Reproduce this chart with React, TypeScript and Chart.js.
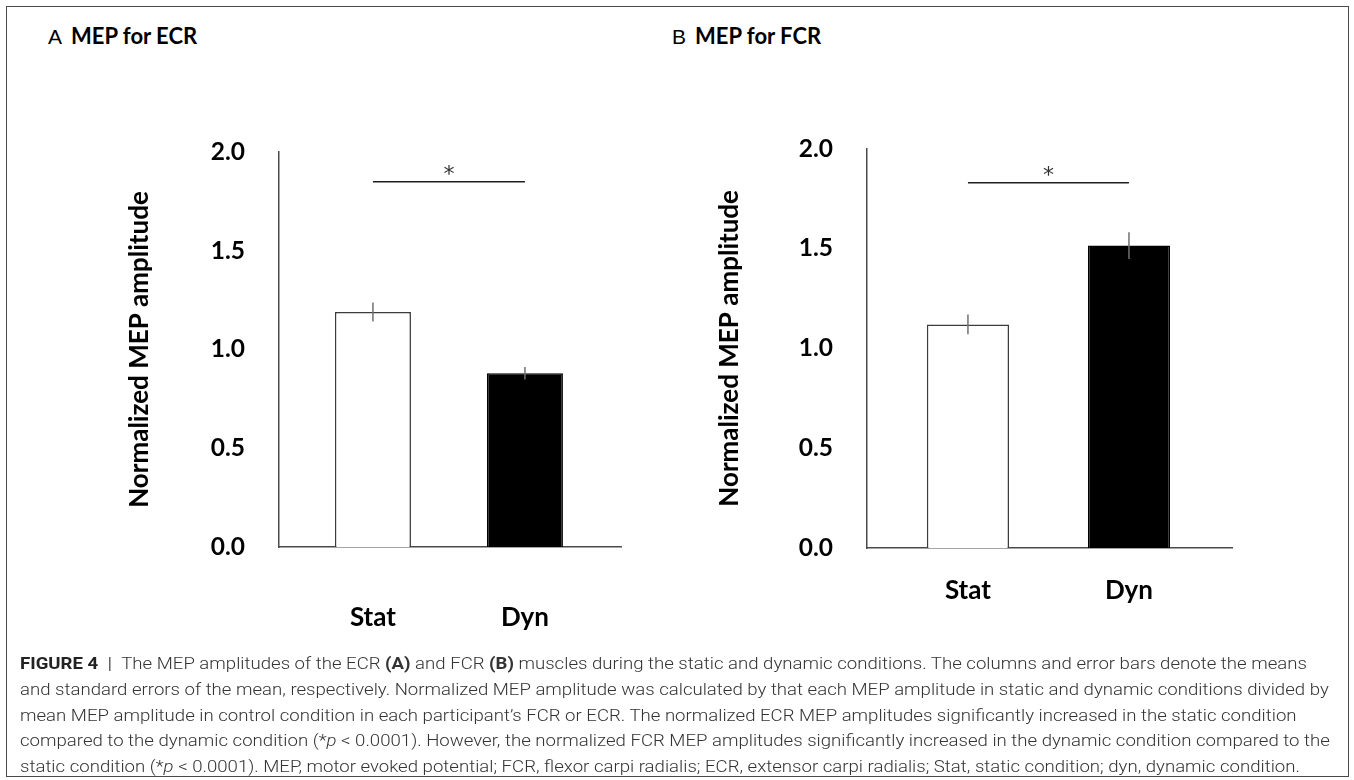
import React, { useEffect, useLayoutEffect, useRef } from 'react';
import { Chart, registerables } from 'chart.js';

Chart.register(...registerables);

// ---------- data ----------
const categories = ['Stat', 'Dyn'];
const ecrMeans = [1.19, 0.88];
const ecrErrors = [0.048, 0.032];
const fcrMeans = [1.12, 1.515];
const fcrErrors = [0.05, 0.067];
const yTickValues = [0, 0.5, 1.0, 1.5, 2.0];
const ecrSignificance = 1.85;
const fcrSignificance = 1.83;
const significanceMark = '*';
const yAxisTitle = 'Normalized MEP amplitude';

// ---------- styles ----------
const BAR_FILLS = ['#ffffff', '#000000'];
const BAR_BORDERS = ['#3c3c3c', '#000000'];
const BOLD = 'Lato';

const annotatePlugin = {
  id: 'annotate',
  afterDatasetsDraw(chart: any, _args: any, opts: any) {
    const { ctx } = chart;
    const ys = chart.scales.y;
    const meta = chart.getDatasetMeta(0);
    ctx.save();
    ctx.strokeStyle = '#707070';
    ctx.lineWidth = 1.5;
    meta.data.forEach((bar: any, i: number) => {
      const m = opts.means[i];
      const e = opts.errors[i];
      ctx.beginPath();
      ctx.moveTo(bar.x, ys.getPixelForValue(m + e));
      ctx.lineTo(bar.x, ys.getPixelForValue(m - e));
      ctx.stroke();
    });
    const y = ys.getPixelForValue(opts.sigLevel);
    const x1 = meta.data[0].x;
    const x2 = meta.data[meta.data.length - 1].x;
    ctx.strokeStyle = '#1e1e1e';
    ctx.lineWidth = 1.5;
    ctx.beginPath();
    ctx.moveTo(x1, y);
    ctx.lineTo(x2, y);
    ctx.stroke();
    ctx.fillStyle = '#333333';
    ctx.font = '22px "DejaVu Sans"';
    ctx.textAlign = 'center';
    ctx.textBaseline = 'alphabetic';
    ctx.fillText(opts.mark, (x1 + x2) / 2, y - 1);
    ctx.restore();
  },
};

type PanelProps = {
  means: number[];
  errors: number[];
  sig: number;
  yAxisWidth: number;
  xAxisHeight: number;
  padTop: number;
  padRight: number;
  titleCenter: number;
  xPad: number;
  xMin: number;
  xMax: number;
  barPct: number;
};

function Panel(p: PanelProps) {
  const ref = useRef<HTMLCanvasElement>(null);
  useEffect(() => {
    if (!ref.current) return;
    const chart = new Chart(ref.current, {
      type: 'bar',
      data: {
        datasets: [
          {
            data: p.means.map((v, i) => ({ x: i + 1, y: v })),
            backgroundColor: BAR_FILLS,
            borderColor: BAR_BORDERS,
            borderWidth: 1.5,
            barPercentage: p.barPct,
            categoryPercentage: 1,
          },
        ],
      },
      options: {
        animation: false,
        responsive: true,
        maintainAspectRatio: false,
        layout: { padding: { top: p.padTop, right: p.padRight, left: 0, bottom: 0 } },
        plugins: {
          legend: { display: false },
          tooltip: { enabled: false },
          annotate: { means: p.means, errors: p.errors, sigLevel: p.sig, mark: significanceMark },
        } as any,
        scales: {
          x: {
            type: 'linear',
            min: p.xMin,
            max: p.xMax,
            offset: false,
            grid: { display: false, drawTicks: false, offset: false },
            border: { display: true, color: '#4a4a4a', width: 1.5 },
            afterBuildTicks: (scale: any) => {
              scale.ticks = categories.map((_, i) => ({ value: i + 1 }));
            },
            afterFit: (scale: any) => {
              scale.height = p.xAxisHeight;
            },
            ticks: {
              padding: p.xPad,
              color: '#000',
              font: { family: BOLD, weight: 'bold', size: 26, lineHeight: 1.2 },
              callback: (v: any) => categories[Math.round(Number(v)) - 1] ?? '',
              maxRotation: 0,
              autoSkip: false,
            },
          },
          y: {
            min: 0,
            max: 2,
            grid: { display: false, drawTicks: false },
            border: { display: true, color: '#4a4a4a', width: 1.5 },
            afterBuildTicks: (scale: any) => {
              scale.ticks = yTickValues.map((v) => ({ value: v }));
            },
            afterFit: (scale: any) => {
              scale.width = p.yAxisWidth;
            },
            ticks: {
              padding: 34,
              color: '#000',
              font: { family: BOLD, weight: 'bold', size: 24.5 },
              callback: (v: any) => Number(v).toFixed(1),
            },
            title: {
              display: true,
              text: yAxisTitle,
              color: '#000',
              font: { family: BOLD, weight: 'bold', size: 26, lineHeight: 1 },
              padding: { top: p.titleCenter - 13, bottom: 0 },
            },
          },
        },
      } as any,
      plugins: [annotatePlugin],
    });
    return () => chart.destroy();
  }, []);
  return <canvas ref={ref} />;
}

const CAPTION_WIDTH = 1287;

export default function App() {
  const capRef = useRef<HTMLDivElement>(null);
  const firstRef = useRef<HTMLDivElement>(null);
  useLayoutEffect(() => {
    if (!capRef.current || !firstRef.current) return;
    const w = firstRef.current.scrollWidth;
    if (w > 0) capRef.current.style.transform = `scaleX(${CAPTION_WIDTH / w})`;
  });

  const lineStyle: React.CSSProperties = {
    whiteSpace: 'nowrap',
    width: 'max-content',
    height: 25.8,
    lineHeight: '25.8px',
  };
  const titleStyle: React.CSSProperties = {
    position: 'absolute',
    top: 20,
    fontSize: 22,
    lineHeight: '32px',
    color: '#000',
    whiteSpace: 'nowrap',
  };

  return (
    <div
      style={{
        position: 'absolute',
        left: 0,
        top: 0,
        width: 1354,
        height: 780,
        background: '#fff',
        overflow: 'hidden',
      }}
    >
      <div
        style={{
          position: 'absolute',
          left: 6,
          top: 6,
          width: 1343,
          height: 771,
          border: '1.5px solid #4a4a4a',
          boxSizing: 'border-box',
        }}
      />
      <div style={{ ...titleStyle, left: 48 }}>
        <span style={{ fontFamily: 'Liberation Sans', fontSize: 21 }}>A</span>
        <span style={{ fontFamily: 'Lato', fontWeight: 700, marginLeft: 9 }}>MEP for ECR</span>
      </div>
      <div style={{ ...titleStyle, left: 672 }}>
        <span style={{ fontFamily: 'Liberation Sans', fontSize: 21 }}>B</span>
        <span style={{ fontFamily: 'Lato', fontWeight: 700, marginLeft: 9 }}>MEP for FCR</span>
      </div>

      <div style={{ position: 'absolute', left: 0, top: 100, width: 680, height: 560 }}>
        <Panel
          means={ecrMeans}
          errors={ecrErrors}
          sig={ecrSignificance}
          yAxisWidth={279}
          xAxisHeight={113}
          padTop={52}
          padRight={59}
          titleCenter={140}
          xPad={55}
          xMin={0.382}
          xMax={2.632}
          barPct={0.5}
        />
      </div>
      <div style={{ position: 'absolute', left: 677, top: 100, width: 677, height: 560 }}>
        <Panel
          means={fcrMeans}
          errors={fcrErrors}
          sig={fcrSignificance}
          yAxisWidth={190}
          xAxisHeight={112}
          padTop={46}
          padRight={122}
          titleCenter={53}
          xPad={27}
          xMin={0.373}
          xMax={2.64}
          barPct={0.51}
        />
      </div>

      <div
        ref={capRef}
        style={{
          position: 'absolute',
          left: 20,
          top: 651,
          fontFamily: 'Roboto',
          fontWeight: 300,
          fontSize: 16.5,
          color: '#333',
          transformOrigin: 'left top',
        }}
      >
        <div ref={firstRef} style={lineStyle}>
          <b style={{ fontWeight: 700, color: '#222' }}>FIGURE 4</b>
          <span style={{ color: '#555', fontWeight: 400 }}>&nbsp;&nbsp;|&nbsp;&nbsp;</span>
          The MEP amplitudes of the ECR <b style={{ fontWeight: 700 }}>(A)</b> and FCR{' '}
          <b style={{ fontWeight: 700 }}>(B)</b> muscles during the static and dynamic conditions. The
          columns and error bars denote the means
        </div>
        <div style={lineStyle}>
          and standard errors of the mean, respectively. Normalized MEP amplitude was calculated by that
          each MEP amplitude in static and dynamic conditions divided by
        </div>
        <div style={lineStyle}>
          mean MEP amplitude in control condition in each participant’s FCR or ECR. The normalized ECR MEP
          amplitudes significantly increased in the static condition
        </div>
        <div style={lineStyle}>
          compared to the dynamic condition (*<i>p</i> &lt; 0.0001). However, the normalized FCR MEP
          amplitudes significantly increased in the dynamic condition compared to the
        </div>
        <div style={lineStyle}>
          static condition (*<i>p</i> &lt; 0.0001). MEP, motor evoked potential; FCR, flexor carpi
          radialis; ECR, extensor carpi radialis; Stat, static condition; dyn, dynamic condition.
        </div>
      </div>
    </div>
  );
}
